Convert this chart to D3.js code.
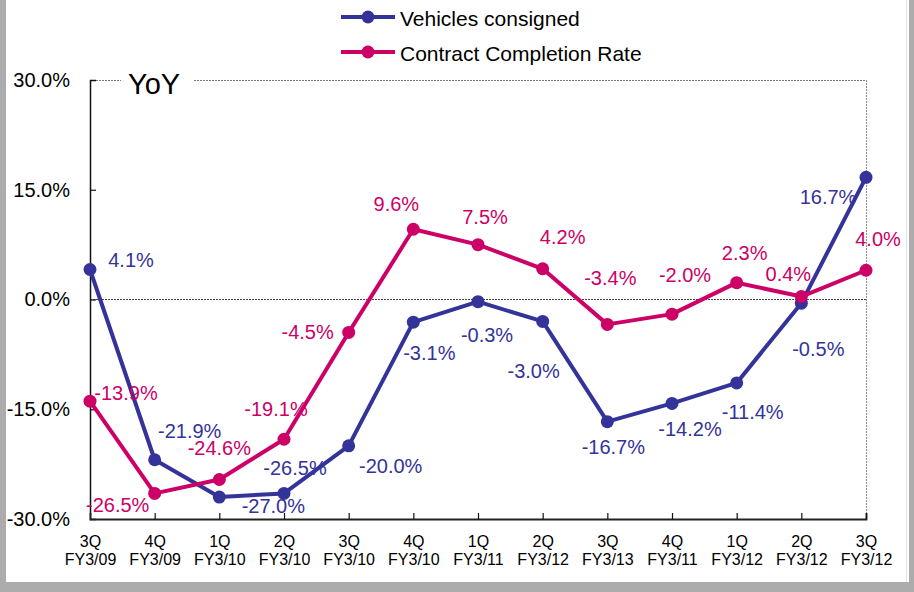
<!DOCTYPE html>
<html>
<head>
<meta charset="utf-8">
<script src="https://cdn.jsdelivr.net/npm/d3@7/dist/d3.min.js"></script>
<style>
  html, body { margin: 0; padding: 0; background: #fff; }
  svg { display: block; font-family: "Liberation Sans", Arial, sans-serif; }
</style>
</head>
<body>
<svg id="chart" width="914" height="592"></svg>
<script>
// Quarter categories (two-line labels)
const quarters = ["3Q", "4Q", "1Q", "2Q", "3Q", "4Q", "1Q", "2Q", "3Q", "4Q", "1Q", "2Q", "3Q"];
const fiscalYears = ["FY3/09", "FY3/09", "FY3/10", "FY3/10", "FY3/10", "FY3/10", "FY3/11", "FY3/12", "FY3/13", "FY3/11", "FY3/12", "FY3/12", "FY3/12"];

// Year-over-year change, %
const vehiclesConsigned = [4.1, -21.9, -27.0, -26.5, -20.0, -3.1, -0.3, -3.0, -16.7, -14.2, -11.4, -0.5, 16.7];
const contractCompletionRate = [-13.9, -26.5, -24.6, -19.1, -4.5, 9.6, 7.5, 4.2, -3.4, -2.0, 2.3, 0.4, 4.0];

const yTicks = [30, 15, 0, -15, -30];

// Value label placement relative to each point: [dx, dy to baseline]
const vehiclesLabelOffsets = [[41, -3], [35, -22], [54, 16], [11, -18], [42, 27], [16, 38], [9, 40], [-9, 57], [6, 32], [18, 33], [16, 36], [17, 53], [-38, 27]];
const contractLabelOffsets = [[36, -1], [-37, 19], [0, -24], [-8, -23], [-41, 7], [-17, -18], [7, -21], [20, -25], [3, -39], [13, -32], [8, -23], [-13, -16], [12, -24]];

const series = [
  { name: "Vehicles consigned", values: vehiclesConsigned, color: "#333399", offsets: vehiclesLabelOffsets },
  { name: "Contract Completion Rate", values: contractCompletionRate, color: "#cc0066", offsets: contractLabelOffsets }
];

// Percent with a plain hyphen-minus
const pct = d => (d < 0 ? "-" : "") + Math.abs(d).toFixed(1) + "%";

const svg = d3.select("#chart");
const W = 914, H = 592;
const plot = { left: 90, right: 866, top: 80, bottom: 519 };

// Outer frame
svg.append("rect").attr("x", 0).attr("y", 0).attr("width", W).attr("height", H).attr("fill", "#acacac");
svg.append("rect").attr("x", 6).attr("y", 0).attr("width", 903).attr("height", 582).attr("fill", "#ffffff");
svg.append("line").attr("x1", 906.5).attr("x2", 906.5).attr("y1", 0).attr("y2", 582)
  .attr("stroke", "#e4e4e4").attr("stroke-width", 1);

const idx = d3.range(quarters.length);
const x = d3.scalePoint().domain(idx).range([plot.left, plot.right]).padding(0);
const y = d3.scaleLinear().domain([-30, 30]).range([plot.bottom, plot.top]);

// Top and right dashed frame (top interrupted by the "YoY" title)
svg.append("line").attr("x1", plot.left).attr("x2", 121).attr("y1", plot.top + 0.5).attr("y2", plot.top + 0.5)
  .attr("stroke", "#777").attr("stroke-dasharray", "2,1").attr("stroke-width", 1);
svg.append("line").attr("x1", 194).attr("x2", plot.right).attr("y1", plot.top + 0.5).attr("y2", plot.top + 0.5)
  .attr("stroke", "#777").attr("stroke-dasharray", "2,1").attr("stroke-width", 1);
svg.append("line").attr("x1", plot.right + 0.5).attr("x2", plot.right + 0.5).attr("y1", plot.top).attr("y2", plot.bottom)
  .attr("stroke", "#888").attr("stroke-dasharray", "2,1").attr("stroke-width", 1);

svg.append("text").attr("x", 128).attr("y", 94).attr("font-size", 29).attr("fill", "#000").text("YoY");

// Zero reference line
svg.append("line").attr("x1", plot.left).attr("x2", plot.right).attr("y1", y(0)).attr("y2", y(0))
  .attr("stroke", "#444").attr("stroke-dasharray", "2,1").attr("stroke-width", 1);

// Y axis (ticks point inward)
const yAxis = d3.axisLeft(y).tickValues(yTicks).tickSize(-6).tickPadding(20).tickFormat(pct);
const gy = svg.append("g").attr("transform", `translate(${plot.left},0)`).call(yAxis);
gy.select(".domain").attr("stroke", "#111").attr("stroke-width", 1.5);
gy.selectAll(".tick line").attr("stroke", "#111").attr("stroke-width", 1.2);
gy.selectAll(".tick text").attr("font-size", 20).attr("fill", "#000")
  .attr("font-family", "'Liberation Sans', Arial, sans-serif");
gy.selectAll(".tick").filter(d => d === 30 || d === -30).select("line").remove();

// X axis (ticks point inward, two-line labels)
const xAxis = d3.axisBottom(x).tickSize(-6).tickFormat(() => "");
const gx = svg.append("g").attr("transform", `translate(0,${plot.bottom})`).call(xAxis);
gx.select(".domain").attr("stroke", "#222").attr("stroke-width", 1.8);
gx.selectAll(".tick line").attr("stroke", "#111").attr("stroke-width", 1.2);
gx.selectAll(".tick").filter(d => d === 0).select("line").remove();
gx.selectAll(".tick text").remove();
gx.selectAll(".tick").append("text")
  .attr("text-anchor", "middle").attr("font-size", 16).attr("fill", "#000")
  .attr("font-family", "'Liberation Sans', Arial, sans-serif")
  .each(function(d) {
    const t = d3.select(this);
    t.append("tspan").attr("x", 0).attr("y", 28).text(quarters[d]);
    t.append("tspan").attr("x", 0).attr("y", 46).text(fiscalYears[d]);
  });

// Series lines and markers
const line = d3.line().x((d, i) => x(i)).y(d => y(d));
series.forEach(s => {
  svg.append("path").datum(s.values).attr("d", line)
    .attr("fill", "none").attr("stroke", s.color).attr("stroke-width", 4).attr("stroke-linejoin", "round");
  svg.append("g").selectAll("circle").data(s.values).join("circle")
    .attr("cx", (d, i) => x(i)).attr("cy", d => y(d)).attr("r", 6.5).attr("fill", s.color);
});

// Value labels
series.forEach(s => {
  svg.append("g").selectAll("text").data(s.values).join("text")
    .attr("x", (d, i) => x(i) + s.offsets[i][0])
    .attr("y", (d, i) => y(d) + s.offsets[i][1])
    .attr("text-anchor", "middle").attr("font-size", 20).attr("fill", s.color)
    .text(pct);
});

// Legend
const legend = svg.append("g");
series.forEach((s, k) => {
  const ly = 17 + k * 35;
  legend.append("line").attr("x1", 341).attr("x2", 395).attr("y1", ly).attr("y2", ly)
    .attr("stroke", s.color).attr("stroke-width", 4);
  legend.append("circle").attr("cx", 368).attr("cy", ly).attr("r", 6.5).attr("fill", s.color);
  legend.append("text").attr("x", 400).attr("y", ly + 9).attr("font-size", 21).attr("fill", "#000").text(s.name);
});
</script>
</body>
</html>
